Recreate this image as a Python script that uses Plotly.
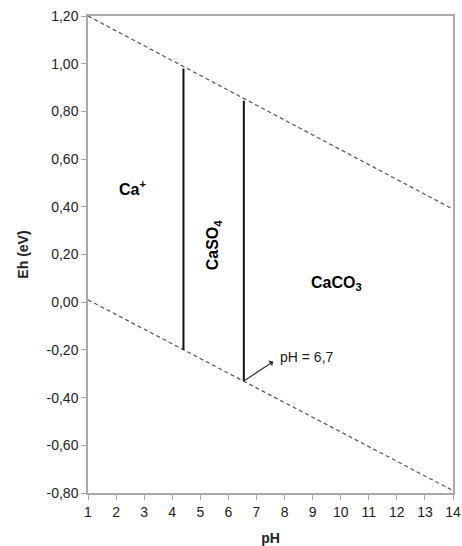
import plotly.graph_objects as go

# Water stability limits (dashed)
upper_ph = [1, 14]
upper_eh = [1.20, 0.39]
lower_ph = [1, 14]
lower_eh = [0.01, -0.79]

# Phase boundaries (vertical)
b1_ph = [4.4, 4.4]
b1_eh = [-0.20, 0.98]
b2_ph = [6.55, 6.55]
b2_eh = [-0.33, 0.845]

x_ticks = list(range(1, 15))
y_ticks = [-0.8, -0.6, -0.4, -0.2, 0.0, 0.2, 0.4, 0.6, 0.8, 1.0, 1.2]
y_ticktext = [f"{v:.2f}".replace(".", ",") for v in y_ticks]

FONT = "Liberation Sans, Arial, sans-serif"

fig = go.Figure()
for xs, ys in [(upper_ph, upper_eh), (lower_ph, lower_eh)]:
    fig.add_trace(go.Scatter(x=xs, y=ys, mode="lines",
                             line=dict(color="#555555", width=1.2, dash="4px,3px"),
                             showlegend=False, hoverinfo="skip"))
for xs, ys in [(b1_ph, b1_eh), (b2_ph, b2_eh)]:
    fig.add_trace(go.Scatter(x=xs, y=ys, mode="lines",
                             line=dict(color="#111111", width=2),
                             showlegend=False, hoverinfo="skip"))

lab_font = dict(family=FONT, size=16, color="black")
fig.add_annotation(x=2.6, y=0.48, text="<b>Ca<sup>+</sup></b>", showarrow=False, font=lab_font)
fig.add_annotation(x=5.5, y=0.24, text="<b>CaSO<sub>4</sub></b>", showarrow=False,
                   font=lab_font, textangle=-90)
fig.add_annotation(x=9.85, y=0.08, text="<b>CaCO<sub>3</sub></b>", showarrow=False, font=lab_font)
fig.add_annotation(x=b2_ph[0], y=b2_eh[0], ax=7.65, ay=-0.245, axref="x", ayref="y",
                   xref="x", yref="y", showarrow=True, arrowhead=2, arrowsize=1,
                   arrowwidth=1.2, arrowcolor="#333333", arrowside="start", text="")
fig.add_annotation(x=7.75, y=-0.23, text="pH = 6,7", showarrow=False, xanchor="left",
                   font=dict(family=FONT, size=14, color="#222222"))

axis_common = dict(showline=True, linecolor="#AAAAAA", linewidth=1.5, mirror=True,
                   ticks="outside", tickcolor="#AAAAAA", ticklen=5, showgrid=False,
                   zeroline=False, automargin=False,
                   tickfont=dict(family=FONT, size=14, color="#222222"))
fig.update_xaxes(range=[1, 14], tickvals=x_ticks,
                 title=dict(text="<b>pH</b>", font=dict(family=FONT, size=14, color="#222222")),
                 **axis_common)
fig.update_yaxes(range=[-0.8, 1.2], tickvals=y_ticks, ticktext=y_ticktext,
                 title=dict(text="<b>Eh (eV)</b>", font=dict(family=FONT, size=14, color="#222222")),
                 **axis_common)
fig.update_layout(width=462, height=546, margin=dict(l=88, r=9, t=16, b=53),
                  plot_bgcolor="white", paper_bgcolor="white", separators=",.")
fig.write_html("out.html", config={"displayModeBar": False},
               post_script="document.body.style.margin='0';document.body.style.overflow='hidden';")
